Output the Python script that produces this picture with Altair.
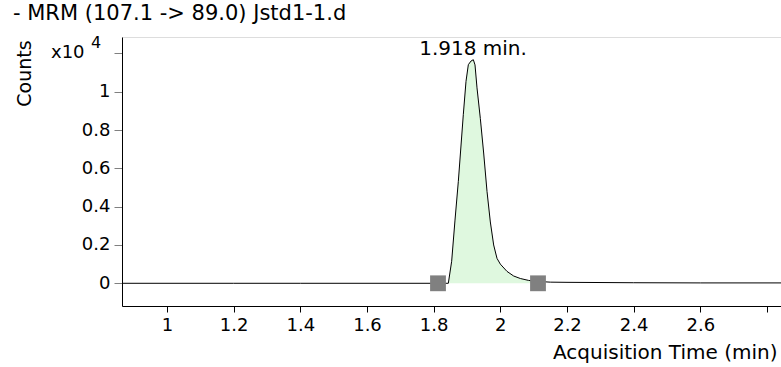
import altair as alt
import pandas as pd

# Chromatogram trace (time in min, counts in x10^4)
trace_t = [0.865, 1.0, 1.2, 1.4, 1.6, 1.8, 1.844, 1.854, 1.864, 1.874, 1.889, 1.897,
           1.904, 1.912, 1.919, 1.924, 1.930, 1.940, 1.950, 1.960, 1.970, 1.980,
           1.990, 2.000, 2.020, 2.040, 2.060, 2.085, 2.110, 2.150, 2.200, 2.400,
           2.600, 2.842]
trace_y = [0.0, 0.0, 0.0, 0.0, 0.0, 0.0, 0.0, 0.115, 0.33, 0.532, 0.882, 1.054,
           1.141, 1.160, 1.167, 1.140, 1.020, 0.860, 0.680, 0.480, 0.320, 0.200,
           0.130, 0.100, 0.062, 0.038, 0.025, 0.015, 0.010, 0.006, 0.005, 0.003,
           0.002, 0.002]

# Integration limits (baseline markers)
marker_t = [1.813, 2.113]
marker_y = [0.0, 0.0]

peak_rt = 1.918
peak_height = 1.167
peak_label = "1.918 min."

x_ticks = [1.0, 1.2, 1.4, 1.6, 1.8, 2.0, 2.2, 2.4, 2.6, 2.8]
y_ticks = [0.0, 0.2, 0.4, 0.6, 0.8, 1.0, 1.2]

title_text = "- MRM (107.1 -> 89.0) Jstd1-1.d"

FONT = "DejaVu Sans"

df = pd.DataFrame({"t": trace_t, "y": trace_y})
df_fill = df[(df.t >= 1.844) & (df.t <= 2.11)]
df_m = pd.DataFrame({"t": marker_t, "y": marker_y})
df_lab = pd.DataFrame({"t": [peak_rt], "y": [peak_height], "label": [peak_label]})

xs = alt.Scale(domain=[0.865, 2.842], nice=False, zero=False)
ys = alt.Scale(domain=[-0.1185, 1.2855], nice=False, zero=False)

x_axis = alt.Axis(
    values=x_ticks, grid=False, domainColor="black", domainWidth=1,
    tickColor="black", tickSize=6, labelFont=FONT, labelFontSize=18,
    labelColor="black", labelPadding=4,
    labelExpr="datum.value > 2.7 ? '' : format(datum.value, '~g')",
    title="Acquisition Time (min)", titleFont=FONT, titleFontSize=20,
    titleFontWeight="normal", titleColor="black", titleAnchor="end",
    titleAlign="right", titleBaseline="alphabetic", titleX=655, titleY=52,
)
y_axis = alt.Axis(
    values=y_ticks, grid=False, domainColor="black", domainWidth=1,
    tickColor="#808080", tickSize=8, labelFont=FONT, labelFontSize=18,
    labelColor="black", labelPadding=4,
    labelExpr="datum.value > 1.1 ? '' : format(datum.value, '~g')",
    title="Counts", titleFont=FONT, titleFontSize=19, titleFontWeight="normal",
    titleColor="black", titleAngle=270, titleAlign="center",
    titleBaseline="middle", titleX=-98, titleY=36,
)

base_x = alt.X("t:Q", scale=xs, axis=x_axis)
base_y = alt.Y("y:Q", scale=ys, axis=y_axis)

fill = alt.Chart(df_fill).mark_area(color="#dff8df", opacity=1).encode(
    x=alt.X("t:Q", scale=xs), y=alt.Y("y:Q", scale=ys)
)
line = alt.Chart(df).mark_line(color="black", strokeWidth=1).encode(
    x=base_x, y=base_y
)
markers = alt.Chart(df_m).mark_square(color="#808080", opacity=1, size=250).encode(
    x=alt.X("t:Q", scale=xs), y=alt.Y("y:Q", scale=ys)
)
ann = alt.Chart(df_lab).mark_text(
    font=FONT, fontSize=20, color="black", baseline="alphabetic", dy=-5
).encode(x=alt.X("t:Q", scale=xs), y=alt.Y("y:Q", scale=ys), text="label:N")

tdf = pd.DataFrame({"txt": [title_text]})
title = alt.Chart(tdf).mark_text(
    font=FONT, fontSize=21, color="black", align="left", baseline="middle"
).encode(x=alt.value(-109), y=alt.value(-23), text="txt:N")

x10 = alt.Chart(pd.DataFrame({"txt": ["x10"]})).mark_text(
    font=FONT, fontSize=18, color="black", align="left", baseline="middle"
).encode(x=alt.value(-71), y=alt.value(16), text="txt:N")
exp4 = alt.Chart(pd.DataFrame({"txt": ["4"]})).mark_text(
    font=FONT, fontSize=16, color="black", align="left", baseline="middle"
).encode(x=alt.value(-31), y=alt.value(6), text="txt:N")

chart = alt.layer(fill, line, markers, ann, title, x10, exp4).properties(
    width=659, height=269,
    autosize=alt.AutoSizeParams(type="none"),
    padding={"left": 122, "top": 37, "right": 0, "bottom": 61},
).configure_view(stroke=None).configure(background="white")

chart.save("out.html", embed_options={"renderer": "svg", "actions": False})
